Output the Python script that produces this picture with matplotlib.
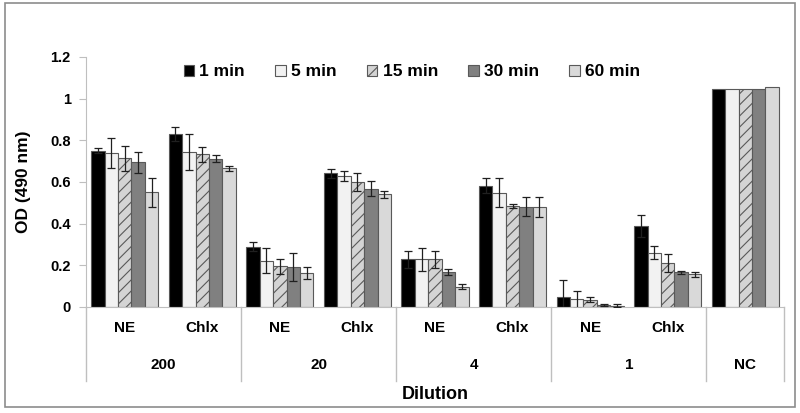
import numpy as np
import matplotlib.pyplot as plt
from matplotlib.patches import Rectangle
from matplotlib.lines import Line2D

plt.rcParams['font.family'] = ['Liberation Sans', 'DejaVu Sans']
plt.rcParams['font.weight'] = 'bold'
plt.rcParams['hatch.linewidth'] = 0.8

sub_labels = ['NE', 'Chlx', 'NE', 'Chlx', 'NE', 'Chlx', 'NE', 'Chlx', '']
dilutions = ['200', '20', '4', '1', 'NC']
series = ['1 min', '5 min', '15 min', '30 min', '60 min']

t1 = [0.750, 0.830, 0.290, 0.642, 0.229, 0.582, 0.047, 0.390, 1.045]
t5 = [0.738, 0.743, 0.221, 0.629, 0.229, 0.549, 0.037, 0.261, 1.045]
t15 = [0.714, 0.733, 0.195, 0.602, 0.229, 0.485, 0.035, 0.213, 1.045]
t30 = [0.695, 0.712, 0.192, 0.568, 0.168, 0.482, 0.008, 0.167, 1.045]
t60 = [0.550, 0.666, 0.162, 0.541, 0.097, 0.480, 0.006, 0.157, 1.055]

e1 = [0.013, 0.035, 0.020, 0.022, 0.041, 0.036, 0.081, 0.053, 0]
e5 = [0.073, 0.085, 0.060, 0.022, 0.056, 0.069, 0.041, 0.032, 0]
e15 = [0.060, 0.037, 0.037, 0.043, 0.041, 0.011, 0.012, 0.043, 0]
e30 = [0.050, 0.018, 0.066, 0.037, 0.014, 0.045, 0.005, 0.007, 0]
e60 = [0.070, 0.012, 0.030, 0.016, 0.013, 0.047, 0.006, 0.012, 0]

values = [t1, t5, t15, t30, t60]
errors = [e1, e5, e15, e30, e60]
colors = ['#000000', '#f2f2f2', '#d4d4d4', '#808080', '#d9d9d9']
hatches = [None, None, '///', None, None]

fig = plt.figure(figsize=(8, 4.13), dpi=100)
ax = fig.add_axes([0.1075, 0.2567, 0.8725, 0.6053])

x = np.arange(len(sub_labels))
w = 0.173
for i in range(5):
    ax.bar(x + (i - 2) * w, values[i], w, color=colors[i], edgecolor='#595959',
           linewidth=0.8, hatch=hatches[i], label=series[i], zorder=2)
    ax.errorbar(x[:-1] + (i - 2) * w, values[i][:-1], yerr=errors[i][:-1], fmt='none',
                ecolor='#202020', elinewidth=0.9, capsize=3, capthick=0.9, zorder=3)

ax.set_xlim(-0.5, 8.5)
ax.set_ylim(0, 1.2)
ax.set_yticks(np.arange(0, 1.21, 0.2))
ax.set_yticklabels(['0', '0.2', '0.4', '0.6', '0.8', '1', '1.2'], fontsize=10.5, fontweight='bold')
ax.tick_params(axis='y', direction='out', length=5, color='#bfbfbf', pad=6)
ax.set_xticks([])
for s in ['top', 'right']:
    ax.spines[s].set_visible(False)
ax.spines['left'].set_color('#bfbfbf')
ax.spines['bottom'].set_color('#bfbfbf')
ax.set_ylabel('OD (490 nm)', fontsize=12.5, fontweight='bold', labelpad=14)

# multi-level category axis
tr = ax.get_xaxis_transform()
for k, lab in enumerate(sub_labels):
    ax.text(k, -0.084, lab, transform=tr, ha='center', va='center', fontsize=11, fontweight='bold')
for g, lab in enumerate(dilutions):
    cx = 2 * g + 0.5 if g < 4 else 8
    ax.text(cx, -0.232, lab, transform=tr, ha='center', va='center', fontsize=11, fontweight='bold')
for sx in [-0.5, 1.5, 3.5, 5.5, 7.5, 8.5]:
    ax.add_line(Line2D([sx, sx], [0, -0.295], transform=tr, color='#bfbfbf', lw=1, clip_on=False))
ax.text(0.5, -0.352, 'Dilution', transform=ax.transAxes, ha='center', va='center',
        fontsize=13, fontweight='bold')

ax.legend(loc='center', bbox_to_anchor=(0.467, 0.94), ncol=5, frameon=False,
          fontsize=12.5, handlelength=0.6, handleheight=0.6, handletextpad=0.3,
          columnspacing=1.75)

fig.add_artist(Rectangle((0.006, 0.014), 0.988, 0.978, transform=fig.transFigure,
                         fill=False, edgecolor='#8c8c8c', lw=1.2))

fig.savefig('out.png', dpi=100)
